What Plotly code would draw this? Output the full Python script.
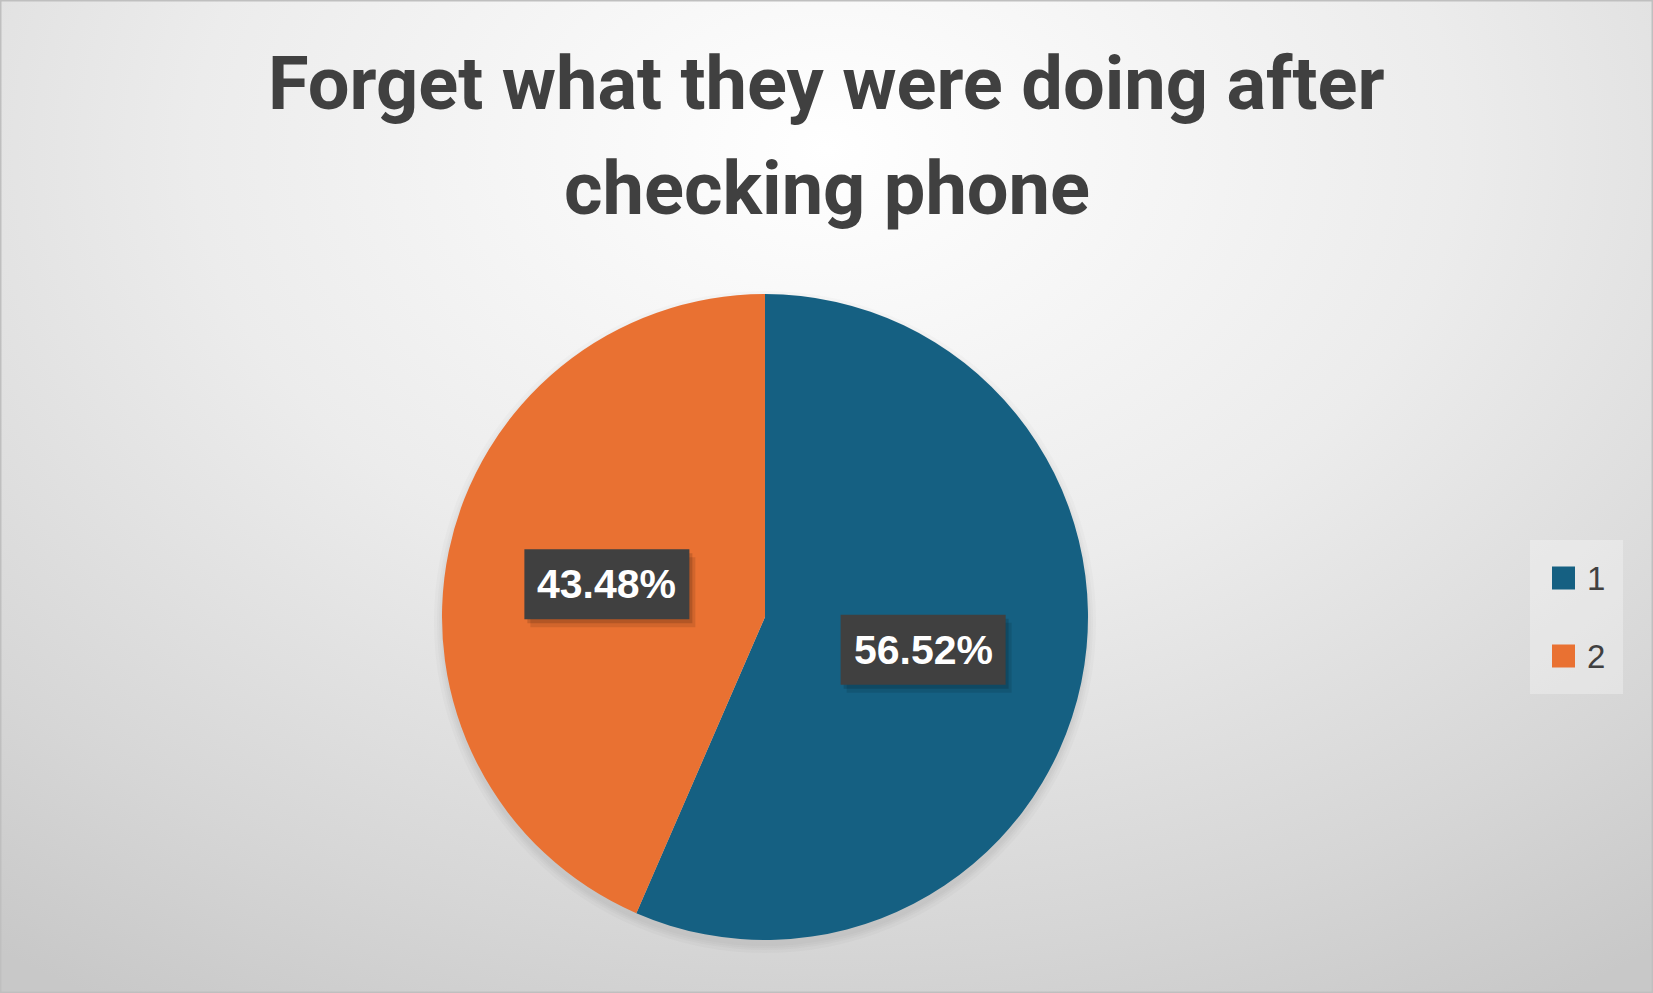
import math

import plotly.graph_objects as go

# chart data
labels = ["1", "2"]
values = [56.52, 43.48]
colors = ["#156082", "#E97132"]
title_lines = ["Forget what they were doing after", "checking phone"]

W, H = 1653, 993
PIE_CX, PIE_CY, PIE_R = 765, 617, 323  # px, from top-left
BOX_W, BOX_H = 165, 70  # data label box size, px
TITLE_Y = [84, 188]  # px, centre of each title line


def pie_domain(cx, cy, r):
    return dict(x=[(cx - r) / W, (cx + r) / W], y=[(H - cy - r) / H, (H - cy + r) / H])


fig = go.Figure()

# soft radial background (Office style)
fig.add_trace(
    go.Scatter(
        x=[-0.35, 1.35, 1.35, -0.35, -0.35],
        y=[-0.15, -0.15, 1.85, 1.85, -0.15],
        mode="lines",
        fill="toself",
        line=dict(width=0),
        fillgradient=dict(
            type="radial",
            colorscale=[[0, "#ffffff"], [0.45, "#ececec"], [0.8, "#d6d6d6"], [1, "#c8c8c8"]],
        ),
        hoverinfo="skip",
        showlegend=False,
    )
)

# faint blurred shadow under the pie
for grow in [8, 5, 3, 1]:
    fig.add_trace(
        go.Pie(
            values=[1],
            marker=dict(colors=["rgba(0,0,0,0.018)"], line=dict(width=0)),
            textinfo="none",
            hoverinfo="skip",
            showlegend=False,
            domain=pie_domain(PIE_CX, PIE_CY + 5, PIE_R + grow),
        )
    )

fig.add_trace(
    go.Pie(
        labels=labels,
        values=values,
        marker=dict(colors=colors, line=dict(width=0)),
        sort=False,
        direction="clockwise",
        rotation=0,
        textinfo="none",
        hoverinfo="label+percent",
        showlegend=False,
        domain=pie_domain(PIE_CX, PIE_CY, PIE_R),
    )
)

# data labels at half radius, centred on each slice
total = sum(values)
cum = 0
for v in values:
    theta = math.radians((cum + v / 2) / total * 360)
    cum += v
    px = PIE_CX + 0.5 * PIE_R * math.sin(theta)
    py = PIE_CY - 0.5 * PIE_R * math.cos(theta)
    # drop shadow + dark box
    for dx, dy, col in [(6, 8, "rgba(0,0,0,0.10)"), (3, 4, "rgba(0,0,0,0.14)"), (0, 0, "#404040")]:
        fig.add_shape(
            type="rect", xref="paper", yref="paper", layer="above",
            x0=(px - BOX_W / 2 + dx) / W, x1=(px + BOX_W / 2 + dx) / W,
            y0=1 - (py + BOX_H / 2 + dy) / H, y1=1 - (py - BOX_H / 2 + dy) / H,
            fillcolor=col, line=dict(width=0),
        )
    fig.add_annotation(
        x=px / W, y=1 - py / H, xref="paper", yref="paper",
        text=f"<b>{v / total * 100:.2f}%</b>", showarrow=False,
        font=dict(family="Liberation Sans", size=41, color="white"),
    )

# title, one annotation per line
for line, ty in zip(title_lines, TITLE_Y):
    fig.add_annotation(
        x=0.5, y=1 - ty / H, xref="paper", yref="paper", yanchor="middle",
        text=f"<b>{line}</b>",
        showarrow=False,
        font=dict(family="Roboto", size=74, color="#404040"),
    )

# legend drawn by hand to get Excel-sized swatches
fig.add_shape(
    type="rect", xref="paper", yref="paper",
    x0=1530 / W, x1=1623 / W, y0=1 - 694 / H, y1=1 - 540 / H,
    fillcolor="rgba(255,255,255,0.3)", line=dict(width=0),
)
for i, (lab, col) in enumerate(zip(labels, colors)):
    cy = 578 + i * 78
    fig.add_shape(
        type="rect", xref="paper", yref="paper",
        x0=1552 / W, x1=1575 / W, y0=1 - (cy + 11.5) / H, y1=1 - (cy - 11.5) / H,
        fillcolor=col, line=dict(width=0),
    )
    fig.add_annotation(
        x=1585 / W, y=1 - cy / H, xref="paper", yref="paper", xanchor="left",
        text=lab, showarrow=False,
        font=dict(family="Liberation Sans", size=33, color="#404040"),
    )

# outer border
fig.add_shape(
    type="rect", xref="paper", yref="paper", x0=0, x1=1, y0=0, y1=1,
    line=dict(color="#bfbfbf", width=3),
)

fig.update_layout(
    width=W,
    height=H,
    margin=dict(l=0, r=0, t=0, b=0),
    paper_bgcolor="#d0d0d0",
    plot_bgcolor="rgba(0,0,0,0)",
    xaxis=dict(range=[0, 1], visible=False, fixedrange=True),
    yaxis=dict(range=[0, 1], visible=False, fixedrange=True),
    showlegend=False,
)

fig.write_html(
    "out.html",
    config=dict(displayModeBar=False),
    post_script="document.body.style.margin='0'; document.body.style.overflow='hidden';",
)
